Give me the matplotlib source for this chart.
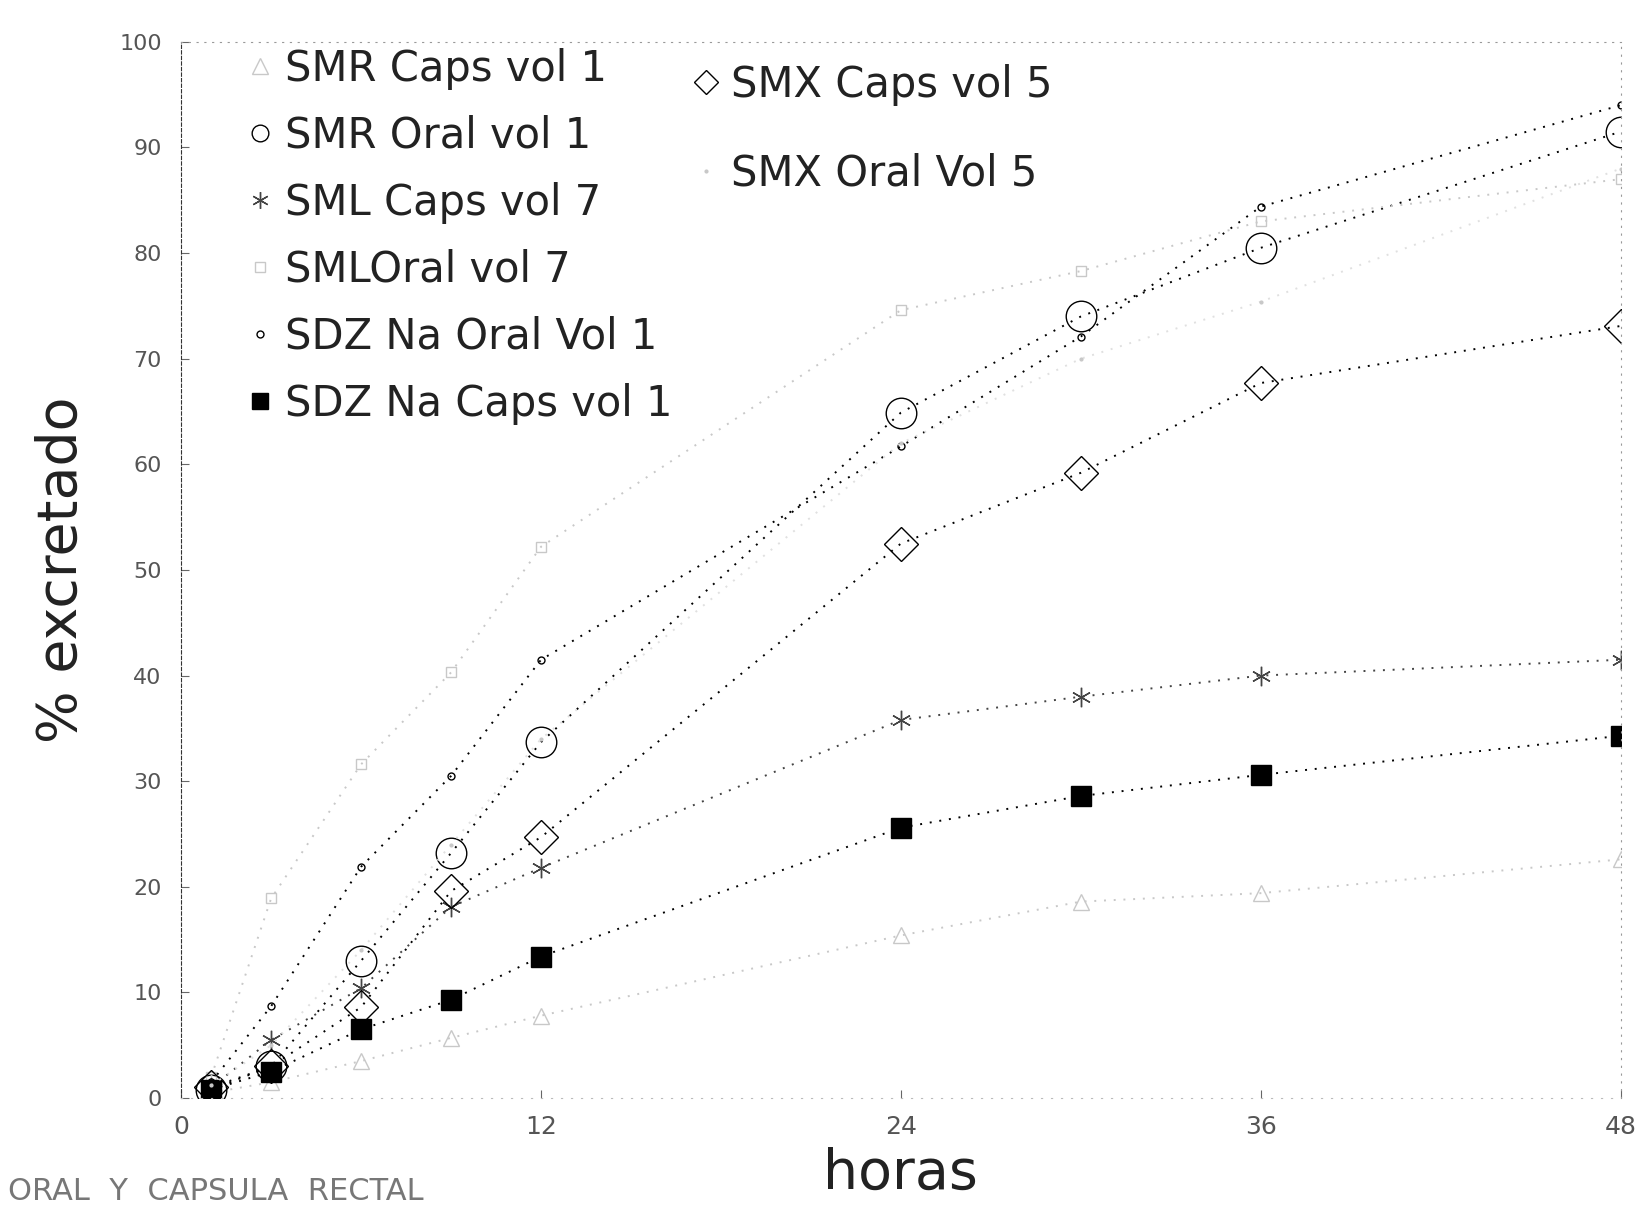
import matplotlib
matplotlib.use("Agg")
import matplotlib.pyplot as plt
from matplotlib.lines import Line2D

# ---- data ----
horas = [1, 3, 6, 9, 12, 24, 30, 36, 48]
smr_caps = [0.5, 1.5, 3.5, 5.7, 7.8, 15.4, 18.6, 19.4, 22.6]
smr_oral = [0.8, 3.0, 13.0, 23.2, 33.7, 64.9, 74.0, 80.5, 91.5]
sml_caps = [1.0, 5.5, 10.4, 18.1, 21.8, 35.8, 38.0, 40.0, 41.5]
sml_oral = [2.0, 18.9, 31.6, 40.3, 52.2, 74.6, 78.3, 83.0, 87.0]
sdz_oral = [1.5, 8.7, 21.9, 30.5, 41.5, 61.7, 72.1, 84.4, 94.0]
sdz_caps = [0.8, 2.5, 6.5, 9.3, 13.4, 25.6, 28.6, 30.6, 34.3]
smx_caps = [1.0, 3.0, 8.6, 19.6, 24.7, 52.5, 59.2, 67.7, 73.1]
smx_oral = [1.2, 5.0, 14.0, 24.0, 34.0, 62.0, 70.0, 75.4, 88.0]

xticks = [0, 12, 24, 36, 48]
yticks = [0, 10, 20, 30, 40, 50, 60, 70, 80, 90, 100]

plt.rcParams['font.family'] = ['DejaVu Sans']

fig = plt.figure(figsize=(16.47, 12.21), dpi=100)
ax = fig.add_axes([0.110, 0.1007, 0.874, 0.865])

faint = '#c8c8c8'
series = [
    (smr_caps, 'SMR Caps vol 1', dict(marker='^', ms=11, mfc='none', mec=faint, color=faint)),
    (smr_oral, 'SMR Oral vol 1', dict(marker='o', ms=22, mfc='none', mec='black', color='black')),
    (sml_caps, 'SML Caps vol 7', dict(marker=(6, 2, 0), ms=14, mec='#444444', color='#444444')),
    (sml_oral, 'SMLOral vol 7', dict(marker='s', ms=7, mfc='none', mec=faint, color=faint)),
    (sdz_oral, 'SDZ Na Oral Vol 1', dict(marker='o', ms=5, mfc='none', mec='black', color='black')),
    (sdz_caps, 'SDZ Na Caps vol 1', dict(marker='s', ms=15, mfc='black', mec='black', color='black')),
    (smx_caps, 'SMX Caps vol 5', dict(marker='D', ms=17, mfc='none', mec='black', color='black')),
    (smx_oral, 'SMX Oral Vol 5', dict(marker='.', ms=4, mfc=faint, mec=faint, color='#e0e0e0')),
]

handles = []
for vals, lab, st in series:
    col = st.pop('color')
    ln, = ax.plot(horas, vals, linestyle=(0, (1, 4)), linewidth=1.4, color=col,
                  label=lab, **st)
    handles.append(ln)

ax.set_xlim(0, 48)
ax.set_ylim(0, 100)
ax.set_xticks(xticks)
ax.set_yticks(yticks)
ax.set_xticklabels([str(v) for v in xticks], fontsize=18, color='#555555')
ax.set_yticklabels([str(v) for v in yticks], fontsize=16, color='#555555')
ax.tick_params(axis='both', length=6, color='#666666', direction='in')
ax.tick_params(axis='x', pad=12)
ax.tick_params(axis='y', pad=14)

for s in ['top', 'right']:
    ax.spines[s].set_linestyle((0, (1, 6)))
    ax.spines[s].set_color('#999999')
ax.spines['bottom'].set_linestyle((0, (1, 8)))
ax.spines['bottom'].set_color('#bbbbbb')
ax.spines['left'].set_color('#333333')
ax.spines['left'].set_linestyle((0, (3, 2)))

ax.set_xlabel('horas', fontsize=40, color='#222222', labelpad=6)
ax.set_ylabel('% excretado', fontsize=40, color='#222222', labelpad=22)


def proxy(h):
    return Line2D([], [], linestyle='none', marker=h.get_marker(),
                  markersize=min(h.get_markersize(), 12),
                  markerfacecolor=h.get_markerfacecolor(),
                  markeredgecolor=h.get_markeredgecolor())


h1 = handles[:6]
h2 = handles[6:]
leg1 = ax.legend([proxy(h) for h in h1], [h.get_label() for h in h1],
                 loc='upper left', bbox_to_anchor=(0.02, 1.03), frameon=False,
                 fontsize=30, labelspacing=0.6, handlelength=0.6, handletextpad=0.3,
                 labelcolor='#222222')
ax.add_artist(leg1)
leg2 = ax.legend([proxy(h) for h in h2], [h.get_label() for h in h2],
                 loc='upper left', bbox_to_anchor=(0.33, 1.015), frameon=False,
                 fontsize=30, labelspacing=1.13, handlelength=0.6, handletextpad=0.3,
                 labelcolor='#222222')

fig.text(0.005, 0.024, 'ORAL  Y  CAPSULA  RECTAL', fontsize=22, color='#777777',
         ha='left', va='center')

fig.savefig('out.png', dpi=100, facecolor='white')
